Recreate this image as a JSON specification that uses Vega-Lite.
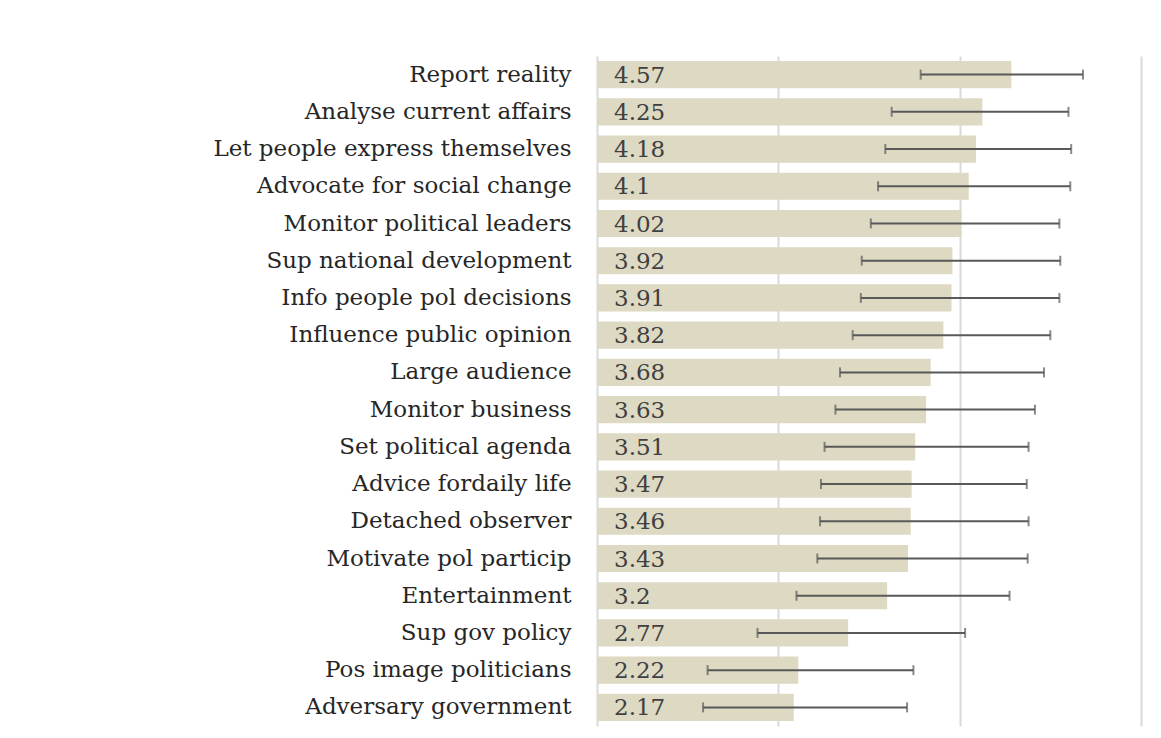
{
  "$schema": "https://vega.github.io/schema/vega-lite/v6.json",
  "width": 544,
  "height": 670,
  "autosize": {"type": "none"},
  "padding": {"left": 597, "top": 56, "right": 20, "bottom": 12},
  "background": "#ffffff",
  "config": {"view": {"stroke": null}, "font": "DejaVu Serif"},
  "data": {"values": [
    {"role": "Report reality", "mean": 4.57, "lo": 3.57, "hi": 5.36, "label": "4.57"},
    {"role": "Analyse current affairs", "mean": 4.25, "lo": 3.25, "hi": 5.20, "label": "4.25"},
    {"role": "Let people express themselves", "mean": 4.18, "lo": 3.18, "hi": 5.23, "label": "4.18"},
    {"role": "Advocate for social change", "mean": 4.1, "lo": 3.10, "hi": 5.22, "label": "4.1"},
    {"role": "Monitor political leaders", "mean": 4.02, "lo": 3.02, "hi": 5.10, "label": "4.02"},
    {"role": "Sup national development", "mean": 3.92, "lo": 2.92, "hi": 5.11, "label": "3.92"},
    {"role": "Info people pol decisions", "mean": 3.91, "lo": 2.91, "hi": 5.10, "label": "3.91"},
    {"role": "Influence public opinion", "mean": 3.82, "lo": 2.82, "hi": 5.00, "label": "3.82"},
    {"role": "Large audience", "mean": 3.68, "lo": 2.68, "hi": 4.93, "label": "3.68"},
    {"role": "Monitor business", "mean": 3.63, "lo": 2.63, "hi": 4.83, "label": "3.63"},
    {"role": "Set political agenda", "mean": 3.51, "lo": 2.51, "hi": 4.76, "label": "3.51"},
    {"role": "Advice fordaily life", "mean": 3.47, "lo": 2.47, "hi": 4.74, "label": "3.47"},
    {"role": "Detached observer", "mean": 3.46, "lo": 2.46, "hi": 4.76, "label": "3.46"},
    {"role": "Motivate pol particip ", "mean": 3.43, "lo": 2.43, "hi": 4.75, "label": "3.43"},
    {"role": "Entertainment", "mean": 3.2, "lo": 2.20, "hi": 4.55, "label": "3.2"},
    {"role": "Sup gov policy", "mean": 2.77, "lo": 1.77, "hi": 4.06, "label": "2.77"},
    {"role": "Pos image politicians", "mean": 2.22, "lo": 1.22, "hi": 3.49, "label": "2.22"},
    {"role": "Adversary government", "mean": 2.17, "lo": 1.17, "hi": 3.42, "label": "2.17"}
  ]},
  "encoding": {
    "y": {
      "field": "role", "type": "nominal", "sort": null,
      "scale": {"paddingInner": 0.27, "paddingOuter": 0.135},
      "axis": {"title": null, "ticks": false, "domain": false, "labelFont": "DejaVu Serif", "labelFontSize": 23, "labelColor": "#262626", "labelPadding": 26, "labelLimit": 580}
    }
  },
  "layer": [
    {
      "mark": {"type": "bar", "color": "#DDD9C3"},
      "encoding": {
        "x": {
          "field": "mean", "type": "quantitative",
          "scale": {"domain": [0, 6], "nice": false},
          "axis": {"title": null, "values": [0, 2, 4, 6], "labels": false, "ticks": false, "domain": false, "grid": true, "gridColor": "#D9D9D9", "gridWidth": 2}
        }
      }
    },
    {
      "mark": {"type": "rule", "color": "#595959", "strokeWidth": 2},
      "encoding": {"x": {"field": "lo", "type": "quantitative"}, "x2": {"field": "hi"}}
    },
    {
      "mark": {"type": "tick", "color": "#595959", "thickness": 2, "size": 10},
      "encoding": {"x": {"field": "lo", "type": "quantitative"}}
    },
    {
      "mark": {"type": "tick", "color": "#595959", "thickness": 2, "size": 10},
      "encoding": {"x": {"field": "hi", "type": "quantitative"}}
    },
    {
      "mark": {"type": "text", "align": "left", "baseline": "middle", "dx": 17, "dy": 1, "font": "DejaVu Serif", "fontSize": 23, "color": "#404040"},
      "encoding": {"x": {"datum": 0, "type": "quantitative"}, "text": {"field": "label"}}
    }
  ]
}
